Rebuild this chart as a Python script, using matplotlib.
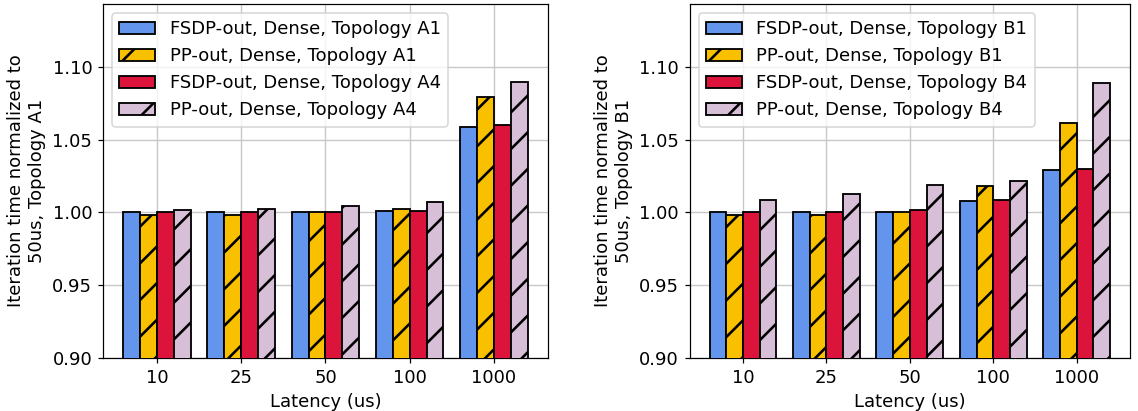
import numpy as np
import matplotlib
matplotlib.use("Agg")
import matplotlib.pyplot as plt

latency = ["10", "25", "50", "100", "1000"]

# left panel: topologies A1 / A4
a1_fsdp = [1.000, 1.000, 1.0002, 1.001, 1.0588]
a1_pp = [0.998, 0.998, 1.0002, 1.0025, 1.0789]
a4_fsdp = [1.000, 1.000, 1.0002, 1.001, 1.0597]
a4_pp = [1.0017, 1.0023, 1.0046, 1.0073, 1.0894]

# right panel: topologies B1 / B4
b1_fsdp = [1.000, 1.000, 1.0003, 1.0077, 1.0288]
b1_pp = [0.998, 0.998, 1.0003, 1.0178, 1.0614]
b4_fsdp = [1.000, 1.000, 1.0016, 1.0082, 1.0299]
b4_pp = [1.0088, 1.0124, 1.0185, 1.0215, 1.0889]

colors = ["#6495ED", "#F9C000", "#DC143C", "#D8BFD8"]
hatches = ["", "/", "", "/"]

DPI = 110
plt.rcParams["font.size"] = 11.8
plt.rcParams["hatch.linewidth"] = 1.7

fig = plt.figure(figsize=(1138 / DPI, 411 / DPI), dpi=DPI)
ax1 = fig.add_axes([0.0905, 0.129, 0.391, 0.861])
ax2 = fig.add_axes([0.606, 0.129, 0.387, 0.861])

def draw(ax, series, topo):
    x = np.arange(len(latency))
    w = 0.2
    labels = [
        "FSDP-out, Dense, Topology %s1" % topo,
        "PP-out, Dense, Topology %s1" % topo,
        "FSDP-out, Dense, Topology %s4" % topo,
        "PP-out, Dense, Topology %s4" % topo,
    ]
    for i, vals in enumerate(series):
        ax.bar(x + (i - 1.5) * w, vals, w, color=colors[i], hatch=hatches[i],
               edgecolor="black", linewidth=1.2, label=labels[i], zorder=3)
    ax.set_xticks(x)
    ax.set_xticklabels(latency)
    ax.set_ylim(0.9, 1.143)
    ax.set_yticks([0.90, 0.95, 1.00, 1.05, 1.10])
    ax.set_yticklabels(["0.90", "0.95", "1.00", "1.05", "1.10"])
    ax.grid(True, color="#c8c8c8", linewidth=0.9, zorder=0)
    ax.set_axisbelow(True)
    ax.set_xlabel("Latency (us)")
    ax.set_ylabel("Iteration time normalized to\n50us, Topology %s1" % topo)
    ax.legend(loc="upper left", fontsize=11.8)

draw(ax1, [a1_fsdp, a1_pp, a4_fsdp, a4_pp], "A")
draw(ax2, [b1_fsdp, b1_pp, b4_fsdp, b4_pp], "B")

fig.savefig("out.png", dpi=DPI)
